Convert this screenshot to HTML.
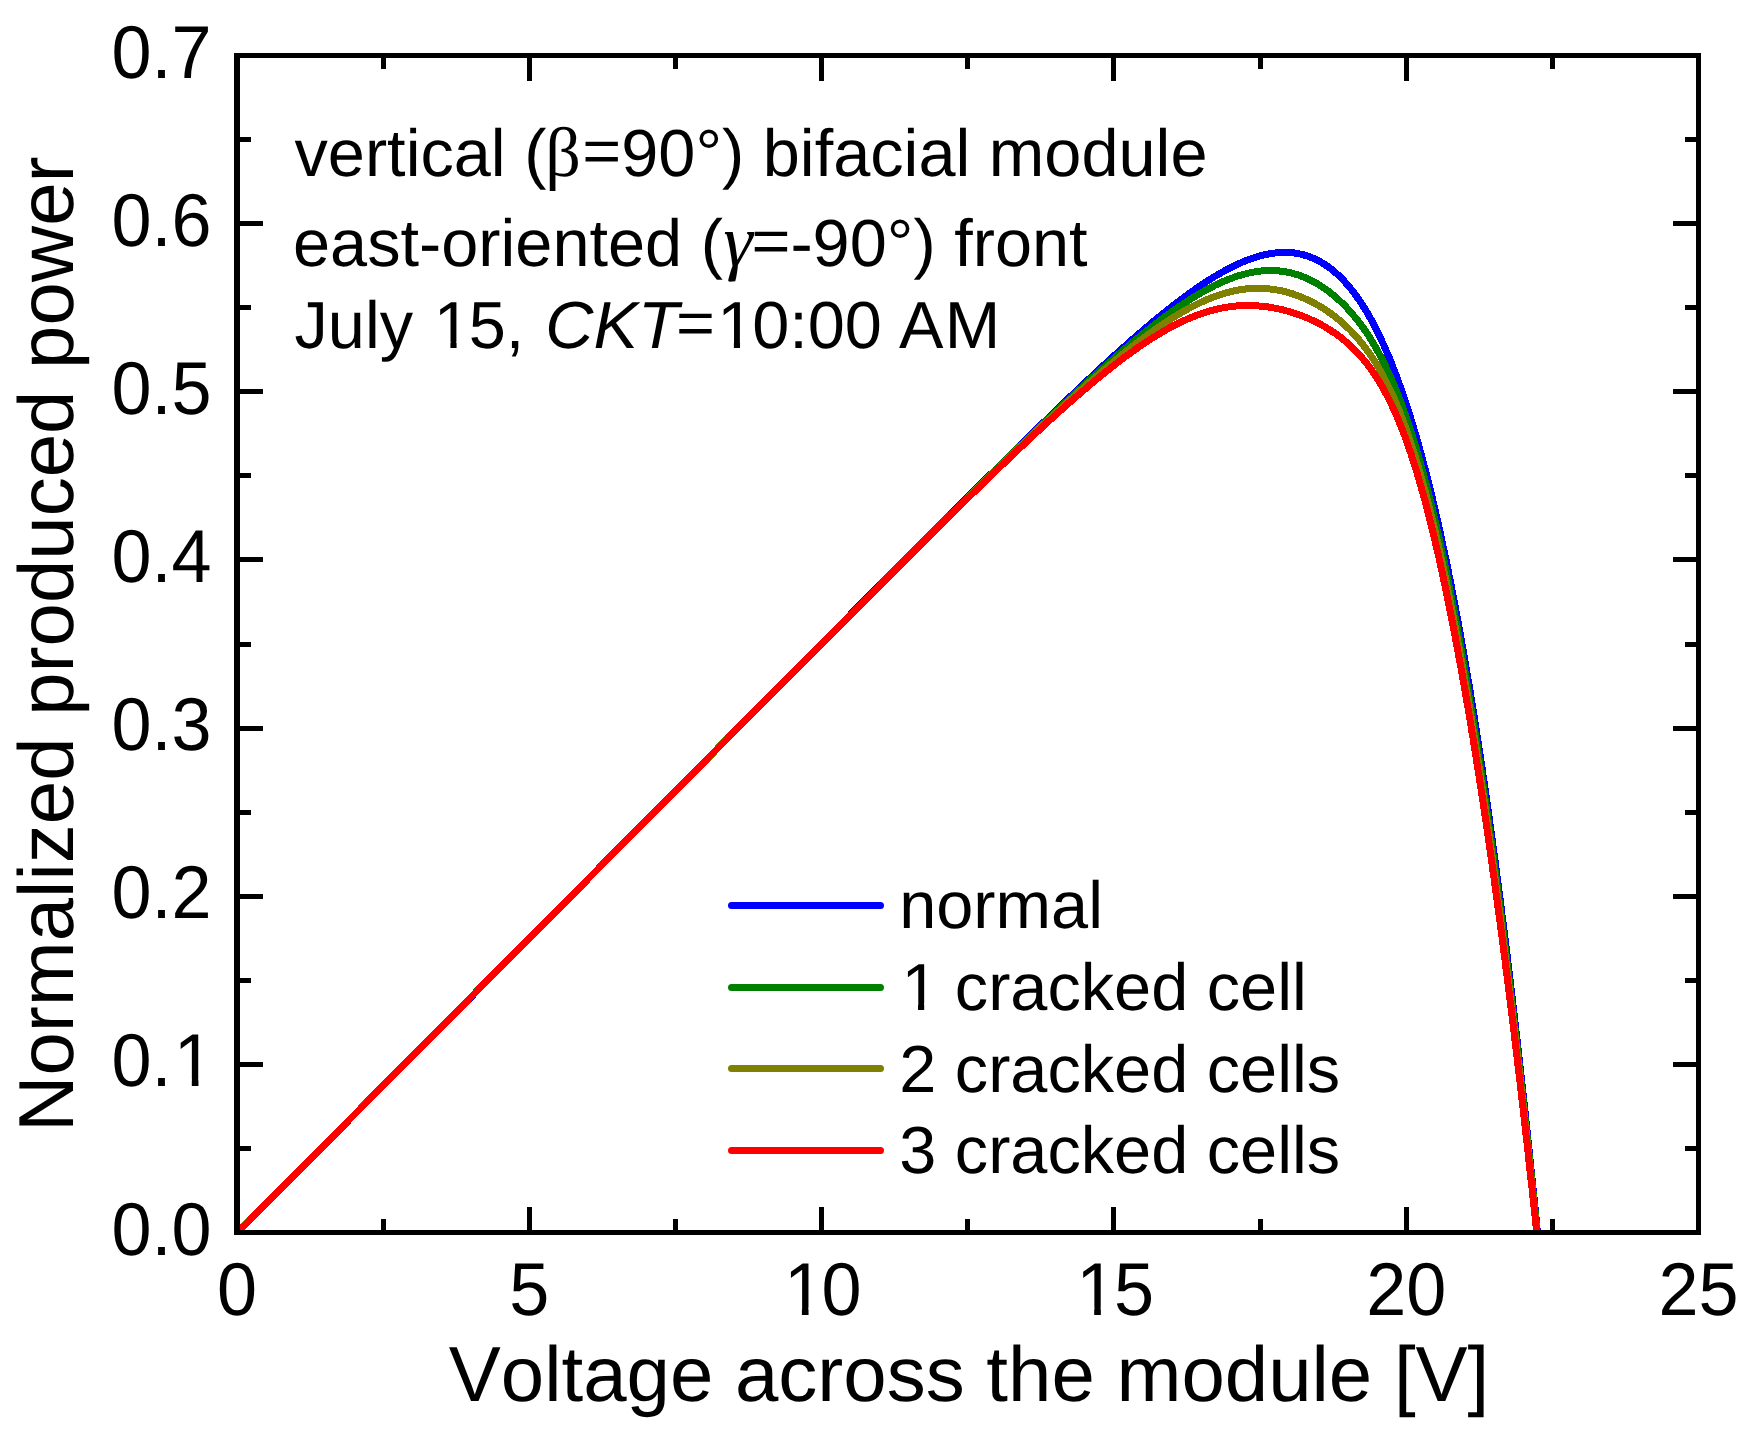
<!DOCTYPE html>
<html lang="en"><head><meta charset="utf-8"><title>Normalized produced power vs voltage</title>
<style>html,body{margin:0;padding:0;background:#fff}body{width:1753px;height:1444px;overflow:hidden}svg{display:block}</style>
</head><body>
<svg width="1753" height="1444" viewBox="0 0 1753 1444">
<rect width="1753" height="1444" fill="#fff"/>
<defs><clipPath id="c"><rect x="237" y="56" width="1461" height="1176"/></clipPath></defs>
<g clip-path="url(#c)" fill="none" stroke-width="7" stroke-linejoin="round" shape-rendering="crispEdges">
<path d="M237.0 1233.0 L239.7 1230.3 L242.2 1227.8 L244.8 1225.2 L247.4 1222.5 L250.2 1219.7 L253.0 1216.9 L255.8 1214.0 L258.8 1211.0 L261.8 1208.0 L264.9 1204.9 L268.1 1201.7 L271.3 1198.4 L274.6 1195.1 L277.9 1191.7 L281.3 1188.3 L284.8 1184.8 L288.3 1181.2 L291.9 1177.6 L295.6 1173.9 L299.3 1170.2 L303.0 1166.4 L306.8 1162.6 L310.6 1158.7 L314.5 1154.8 L318.5 1150.9 L322.4 1146.8 L326.4 1142.8 L330.5 1138.7 L334.6 1134.6 L338.7 1130.4 L342.9 1126.2 L347.1 1122.0 L351.3 1117.7 L355.6 1113.4 L359.9 1109.1 L364.2 1104.8 L368.5 1100.4 L372.9 1096.0 L377.3 1091.6 L381.7 1087.1 L386.1 1082.7 L390.5 1078.2 L395.0 1073.7 L399.5 1069.1 L404.0 1064.6 L408.5 1060.0 L413.1 1055.5 L417.6 1050.9 L422.2 1046.3 L426.7 1041.7 L431.3 1037.0 L435.9 1032.4 L440.5 1027.8 L445.2 1023.1 L449.8 1018.4 L454.4 1013.8 L459.1 1009.1 L463.7 1004.4 L468.4 999.7 L473.1 995.0 L477.7 990.2 L482.4 985.5 L487.1 980.8 L491.8 976.1 L496.5 971.3 L501.2 966.6 L505.9 961.8 L510.6 957.1 L515.3 952.3 L520.1 947.6 L524.8 942.8 L529.5 938.0 L534.2 933.2 L539.0 928.5 L543.7 923.7 L548.5 918.9 L553.2 914.1 L558.0 909.3 L562.7 904.6 L567.5 899.8 L572.2 895.0 L577.0 890.2 L581.7 885.4 L586.5 880.6 L591.2 875.8 L596.0 871.0 L600.8 866.2 L605.5 861.4 L610.3 856.6 L615.1 851.8 L619.8 847.0 L624.6 842.1 L629.4 837.3 L634.1 832.5 L638.9 827.7 L643.7 822.9 L648.5 818.1 L653.2 813.3 L658.0 808.5 L662.8 803.6 L667.6 798.8 L672.3 794.0 L677.1 789.2 L681.9 784.4 L686.7 779.6 L691.4 774.8 L696.2 769.9 L701.0 765.1 L705.8 760.3 L710.6 755.5 L715.3 750.7 L720.1 745.8 L724.9 741.0 L729.7 736.2 L734.5 731.4 L739.2 726.6 L744.0 721.7 L748.8 716.9 L753.6 712.1 L758.4 707.3 L763.1 702.5 L767.9 697.6 L772.7 692.8 L777.5 688.0 L782.3 683.2 L787.1 678.4 L791.8 673.5 L796.6 668.7 L801.4 663.9 L806.2 659.1 L811.0 654.3 L815.8 649.5 L820.6 644.6 L825.3 639.8 L830.1 635.0 L834.9 630.2 L839.7 625.4 L844.5 620.6 L849.3 615.7 L854.0 610.9 L858.8 606.1 L863.6 601.3 L868.4 596.5 L873.2 591.7 L878.0 586.9 L882.8 582.1 L887.5 577.3 L892.3 572.5 L897.1 567.7 L901.9 562.9 L906.7 558.1 L911.5 553.3 L916.3 548.5 L921.0 543.7 L925.8 538.9 L930.6 534.1 L935.4 529.3 L940.2 524.5 L945.0 519.7 L949.8 514.9 L954.6 510.2 L959.3 505.4 L964.1 500.6 L968.9 495.8 L973.7 491.1 L978.5 486.3 L983.3 481.6 L988.1 476.8 L992.9 472.1 L997.7 467.3 L1002.5 462.6 L1007.2 457.9 L1012.0 453.2 L1016.8 448.4 L1021.6 443.7 L1026.4 439.0 L1031.2 434.4 L1036.0 429.7 L1040.8 425.0 L1045.6 420.4 L1050.4 415.7 L1055.2 411.1 L1060.0 406.5 L1064.8 401.9 L1069.6 397.3 L1074.4 392.7 L1079.2 388.2 L1084.0 383.6 L1088.8 379.1 L1093.6 374.6 L1098.4 370.2 L1103.2 365.7 L1108.0 361.3 L1112.8 356.9 L1117.6 352.6 L1122.5 348.3 L1127.3 344.0 L1132.1 339.7 L1136.9 335.5 L1141.7 331.4 L1146.6 327.2 L1151.4 323.2 L1156.2 319.1 L1161.1 315.2 L1165.9 311.3 L1169.8 308.2 L1173.5 305.3 L1177.1 302.5 L1180.5 300.0 L1183.7 297.5 L1186.8 295.2 L1189.8 293.0 L1192.7 291.0 L1195.5 289.0 L1198.2 287.1 L1200.9 285.4 L1203.4 283.7 L1205.8 282.1 L1208.2 280.5 L1210.5 279.1 L1212.8 277.7 L1215.0 276.3 L1217.1 275.1 L1219.2 273.9 L1221.2 272.7 L1223.2 271.6 L1225.1 270.5 L1227.0 269.5 L1228.8 268.6 L1230.6 267.6 L1234.1 265.9 L1237.4 264.3 L1240.6 262.9 L1243.7 261.6 L1246.7 260.4 L1249.5 259.3 L1252.3 258.3 L1255.0 257.4 L1257.6 256.6 L1260.1 255.9 L1262.6 255.3 L1264.9 254.7 L1267.2 254.2 L1269.5 253.8 L1271.7 253.4 L1273.8 253.1 L1275.9 252.9 L1277.9 252.7 L1280.9 252.5 L1283.7 252.4 L1286.5 252.4 L1289.1 252.5 L1291.7 252.7 L1294.3 253.0 L1296.7 253.4 L1299.1 253.8 L1301.4 254.3 L1303.7 254.9 L1305.8 255.6 L1308.0 256.3 L1310.1 257.0 L1312.1 257.8 L1314.1 258.7 L1316.1 259.6 L1318.0 260.6 L1319.9 261.6 L1321.7 262.6 L1323.5 263.7 L1325.3 264.8 L1327.0 266.0 L1328.7 267.2 L1330.3 268.4 L1332.0 269.7 L1333.6 271.0 L1335.2 272.4 L1336.7 273.7 L1338.2 275.1 L1339.7 276.6 L1341.2 278.0 L1342.7 279.5 L1344.1 281.0 L1345.5 282.6 L1346.9 284.1 L1348.3 285.7 L1349.6 287.3 L1351.0 289.0 L1352.3 290.6 L1353.6 292.3 L1354.8 294.0 L1356.1 295.7 L1357.3 297.5 L1358.6 299.2 L1359.8 301.0 L1361.0 302.8 L1362.2 304.6 L1363.3 306.4 L1364.5 308.3 L1365.6 310.2 L1366.8 312.0 L1367.9 313.9 L1369.0 315.9 L1370.1 317.8 L1371.2 319.7 L1372.2 321.7 L1373.3 323.7 L1374.3 325.6 L1375.4 327.6 L1376.4 329.7 L1377.4 331.7 L1378.4 333.7 L1379.4 335.8 L1380.4 337.8 L1381.4 339.9 L1382.3 342.0 L1383.3 344.1 L1384.3 346.2 L1385.2 348.3 L1386.1 350.5 L1387.1 352.6 L1388.0 354.8 L1388.9 356.9 L1389.8 359.1 L1390.7 361.3 L1391.6 363.5 L1392.4 365.7 L1393.3 367.9 L1394.2 370.2 L1395.0 372.4 L1395.9 374.6 L1396.7 376.9 L1397.6 379.2 L1398.4 381.4 L1399.2 383.7 L1400.0 386.0 L1400.8 388.3 L1401.7 390.6 L1402.5 392.9 L1403.2 395.2 L1404.0 397.6 L1404.8 399.9 L1405.6 402.2 L1406.4 404.6 L1407.1 407.0 L1407.9 409.3 L1408.7 411.7 L1409.4 414.1 L1410.2 416.5 L1410.9 418.9 L1411.6 421.3 L1412.4 423.7 L1413.1 426.1 L1413.8 428.5 L1414.5 431.0 L1415.3 433.4 L1416.0 435.9 L1416.7 438.3 L1417.4 440.8 L1418.1 443.2 L1418.8 445.7 L1419.5 448.2 L1420.1 450.7 L1420.8 453.1 L1421.5 455.6 L1422.2 458.1 L1422.9 460.6 L1423.5 463.2 L1424.2 465.7 L1424.8 468.2 L1425.5 470.7 L1426.1 473.3 L1426.8 475.8 L1427.4 478.3 L1428.1 480.9 L1428.7 483.5 L1429.4 486.0 L1430.0 488.6 L1430.6 491.1 L1431.2 493.7 L1431.9 496.3 L1432.5 498.9 L1433.1 501.5 L1433.7 504.1 L1434.3 506.7 L1434.9 509.3 L1435.5 511.9 L1436.1 514.5 L1436.7 517.1 L1437.3 519.8 L1437.9 522.4 L1438.5 525.0 L1439.1 527.7 L1439.7 530.3 L1440.3 532.9 L1440.8 535.6 L1441.4 538.3 L1442.0 540.9 L1442.6 543.6 L1443.1 546.3 L1443.7 548.9 L1444.3 551.6 L1444.8 554.3 L1445.4 557.0 L1446.0 559.7 L1446.5 562.4 L1447.1 565.0 L1447.6 567.8 L1448.2 570.5 L1448.7 573.2 L1449.2 575.9 L1449.8 578.6 L1450.3 581.3 L1450.9 584.0 L1451.4 586.8 L1451.9 589.5 L1452.5 592.2 L1453.0 595.0 L1453.5 597.7 L1454.0 600.5 L1454.6 603.2 L1455.1 606.0 L1455.6 608.7 L1456.1 611.5 L1456.6 614.3 L1457.2 617.0 L1457.7 619.8 L1458.2 622.6 L1458.7 625.4 L1459.2 628.1 L1459.7 630.9 L1460.2 633.7 L1460.7 636.5 L1461.2 639.3 L1461.7 642.1 L1462.2 644.9 L1462.7 647.7 L1463.2 650.5 L1463.7 653.3 L1464.2 656.2 L1464.6 659.0 L1465.1 661.8 L1465.6 664.6 L1466.1 667.5 L1466.6 670.3 L1467.0 673.1 L1467.5 676.0 L1468.0 678.8 L1468.5 681.6 L1469.0 684.5 L1469.4 687.3 L1469.9 690.2 L1470.4 693.0 L1470.8 695.9 L1471.3 698.8 L1471.8 701.6 L1472.2 704.5 L1472.7 707.4 L1473.1 710.2 L1473.6 713.1 L1474.1 716.0 L1474.5 718.9 L1475.0 721.8 L1475.4 724.7 L1475.9 727.5 L1476.3 730.4 L1476.8 733.3 L1477.2 736.2 L1477.7 739.1 L1478.1 742.0 L1478.6 744.9 L1479.0 747.9 L1479.4 750.8 L1479.9 753.7 L1480.3 756.6 L1480.8 759.5 L1481.2 762.4 L1481.6 765.4 L1482.1 768.3 L1482.5 771.2 L1482.9 774.2 L1483.4 777.1 L1483.8 780.0 L1484.2 783.0 L1484.6 785.9 L1485.1 788.9 L1485.5 791.8 L1485.9 794.8 L1486.3 797.7 L1486.8 800.7 L1487.2 803.6 L1487.6 806.6 L1488.0 809.6 L1488.4 812.5 L1488.9 815.5 L1489.3 818.5 L1489.5 820.4 L1489.8 822.4 L1490.1 824.4 L1490.4 826.4 L1490.6 828.4 L1490.9 830.4 L1491.2 832.4 L1491.5 834.3 L1491.7 836.3 L1492.0 838.3 L1492.3 840.3 L1492.6 842.3 L1492.8 844.3 L1493.1 846.3 L1493.4 848.3 L1493.6 850.3 L1493.9 852.3 L1494.2 854.3 L1494.4 856.3 L1494.7 858.3 L1495.0 860.3 L1495.2 862.3 L1495.5 864.3 L1495.8 866.3 L1496.0 868.3 L1496.3 870.3 L1496.6 872.3 L1496.8 874.3 L1497.1 876.3 L1497.4 878.4 L1497.6 880.4 L1497.9 882.4 L1498.2 884.4 L1498.4 886.4 L1498.7 888.4 L1498.9 890.4 L1499.2 892.5 L1499.5 894.5 L1499.7 896.5 L1500.0 898.5 L1500.2 900.6 L1500.5 902.6 L1500.8 904.6 L1501.0 906.6 L1501.3 908.6 L1501.5 910.7 L1501.8 912.7 L1502.0 914.7 L1502.3 916.8 L1502.6 918.8 L1502.8 920.8 L1503.1 922.9 L1503.3 924.9 L1503.6 926.9 L1503.8 929.0 L1504.1 931.0 L1504.3 933.0 L1504.6 935.1 L1504.8 937.1 L1505.1 939.2 L1505.4 941.2 L1505.6 943.2 L1505.9 945.3 L1506.1 947.3 L1506.4 949.4 L1506.6 951.4 L1506.9 953.5 L1507.1 955.5 L1507.4 957.6 L1507.6 959.6 L1507.9 961.7 L1508.1 963.7 L1508.4 965.8 L1508.6 967.8 L1508.8 969.9 L1509.1 971.9 L1509.3 974.0 L1509.6 976.0 L1509.8 978.1 L1510.1 980.1 L1510.3 982.2 L1510.6 984.3 L1510.8 986.3 L1511.1 988.4 L1511.3 990.4 L1511.6 992.5 L1511.8 994.6 L1512.0 996.6 L1512.3 998.7 L1512.5 1000.8 L1512.8 1002.8 L1513.0 1004.9 L1513.2 1007.0 L1513.5 1009.0 L1513.7 1011.1 L1514.0 1013.2 L1514.2 1015.3 L1514.5 1017.3 L1514.7 1019.4 L1514.9 1021.5 L1515.2 1023.6 L1515.4 1025.6 L1515.7 1027.7 L1515.9 1029.8 L1516.1 1031.9 L1516.4 1033.9 L1516.6 1036.0 L1516.8 1038.1 L1517.1 1040.2 L1517.3 1042.3 L1517.5 1044.4 L1517.8 1046.4 L1518.0 1048.5 L1518.3 1050.6 L1518.5 1052.7 L1518.7 1054.8 L1519.0 1056.9 L1519.2 1059.0 L1519.4 1061.1 L1519.7 1063.2 L1519.9 1065.3 L1520.1 1067.3 L1520.4 1069.4 L1520.6 1071.5 L1520.8 1073.6 L1521.1 1075.7 L1521.3 1077.8 L1521.5 1079.9 L1521.8 1082.0 L1522.0 1084.1 L1522.2 1086.2 L1522.5 1088.3 L1522.7 1090.4 L1522.9 1092.5 L1523.1 1094.6 L1523.4 1096.7 L1523.6 1098.8 L1523.8 1100.9 L1524.1 1103.1 L1524.3 1105.2 L1524.5 1107.3 L1524.7 1109.4 L1525.0 1111.5 L1525.2 1113.6 L1525.4 1115.7 L1525.7 1117.8 L1525.9 1119.9 L1526.1 1122.0 L1526.3 1124.2 L1526.6 1126.3 L1526.8 1128.4 L1527.0 1130.5 L1527.2 1132.6 L1527.5 1134.7 L1527.7 1136.9 L1527.9 1139.0 L1528.1 1141.1 L1528.4 1143.2 L1528.6 1145.4 L1528.8 1147.5 L1529.0 1149.6 L1529.3 1151.7 L1529.5 1153.8 L1529.7 1156.0 L1529.9 1158.1 L1530.1 1160.2 L1530.4 1162.4 L1530.6 1164.5 L1530.8 1166.6 L1531.0 1168.7 L1531.3 1170.9 L1531.5 1173.0 L1531.7 1175.1 L1531.9 1177.3 L1532.1 1179.4 L1532.4 1181.5 L1532.6 1183.7 L1532.8 1185.8 L1533.0 1188.0 L1533.2 1190.1 L1533.4 1192.2 L1533.7 1194.4 L1533.9 1196.5 L1534.1 1198.6 L1534.3 1200.8 L1534.5 1202.9 L1534.8 1205.1 L1535.0 1207.2 L1535.2 1209.4 L1535.4 1211.5 L1535.6 1213.7 L1535.8 1215.8 L1536.1 1217.9 L1536.3 1220.1 L1536.5 1222.2 L1536.7 1224.4 L1536.9 1226.5 L1537.1 1228.7 L1537.4 1230.8 L1537.6 1233.0 L1537.6 1233.0" stroke="#0000ff"/>
<path d="M237.0 1233.0 L239.7 1230.3 L242.8 1227.2 L245.9 1224.0 L249.1 1220.8 L252.4 1217.5 L255.8 1214.1 L259.2 1210.6 L262.6 1207.1 L266.2 1203.6 L269.8 1200.0 L273.4 1196.3 L277.1 1192.6 L280.8 1188.8 L284.6 1185.0 L288.5 1181.1 L292.4 1177.2 L296.3 1173.2 L300.3 1169.2 L304.3 1165.1 L308.3 1161.1 L312.4 1156.9 L316.6 1152.8 L320.7 1148.6 L324.9 1144.3 L329.2 1140.1 L333.4 1135.8 L337.7 1131.5 L342.0 1127.1 L346.4 1122.7 L350.7 1118.3 L355.1 1113.9 L359.5 1109.5 L363.9 1105.0 L368.4 1100.5 L372.9 1096.0 L377.3 1091.5 L381.8 1086.9 L386.4 1082.4 L390.9 1077.8 L395.4 1073.2 L400.0 1068.6 L404.6 1064.0 L409.2 1059.4 L413.8 1054.7 L418.4 1050.1 L423.0 1045.4 L427.6 1040.8 L432.3 1036.1 L436.9 1031.4 L441.6 1026.7 L446.2 1022.0 L450.9 1017.3 L455.6 1012.6 L460.3 1007.9 L464.9 1003.1 L469.6 998.4 L474.3 993.7 L479.0 988.9 L483.8 984.2 L488.5 979.4 L493.2 974.7 L497.9 969.9 L502.6 965.1 L507.4 960.4 L512.1 955.6 L516.8 950.8 L521.6 946.0 L526.3 941.3 L531.1 936.5 L535.8 931.7 L540.5 926.9 L545.3 922.1 L550.1 917.3 L554.8 912.5 L559.6 907.7 L564.3 902.9 L569.1 898.1 L573.8 893.3 L578.6 888.5 L583.4 883.7 L588.1 878.9 L592.9 874.1 L597.7 869.3 L602.4 864.5 L607.2 859.7 L612.0 854.9 L616.8 850.1 L621.5 845.2 L626.3 840.4 L631.1 835.6 L635.8 830.8 L640.6 826.0 L645.4 821.2 L650.2 816.4 L655.0 811.5 L659.7 806.7 L664.5 801.9 L669.3 797.1 L674.1 792.3 L678.8 787.5 L683.6 782.6 L688.4 777.8 L693.2 773.0 L698.0 768.2 L702.7 763.4 L707.5 758.5 L712.3 753.7 L717.1 748.9 L721.9 744.1 L726.6 739.3 L731.4 734.4 L736.2 729.6 L741.0 724.8 L745.8 720.0 L750.6 715.2 L755.3 710.3 L760.1 705.5 L764.9 700.7 L769.7 695.9 L774.5 691.1 L779.3 686.2 L784.0 681.4 L788.8 676.6 L793.6 671.8 L798.4 667.0 L803.2 662.2 L808.0 657.3 L812.8 652.5 L817.5 647.7 L822.3 642.9 L827.1 638.1 L831.9 633.3 L836.7 628.5 L841.5 623.6 L846.3 618.8 L851.0 614.0 L855.8 609.2 L860.6 604.4 L865.4 599.6 L870.2 594.8 L875.0 590.0 L879.8 585.2 L884.5 580.4 L889.3 575.6 L894.1 570.8 L898.9 566.0 L903.7 561.2 L908.5 556.4 L913.3 551.6 L918.1 546.8 L922.8 542.0 L927.6 537.2 L932.4 532.5 L937.2 527.7 L942.0 522.9 L946.8 518.1 L951.6 513.4 L956.4 508.6 L961.2 503.8 L966.0 499.1 L970.8 494.3 L975.5 489.6 L980.3 484.9 L985.1 480.1 L989.9 475.4 L994.7 470.7 L999.5 466.0 L1004.3 461.3 L1009.1 456.6 L1013.9 451.9 L1018.7 447.2 L1023.5 442.6 L1028.3 437.9 L1033.1 433.3 L1037.9 428.6 L1042.7 424.0 L1047.5 419.4 L1052.3 414.8 L1057.1 410.3 L1062.0 405.7 L1066.8 401.2 L1071.6 396.7 L1076.4 392.2 L1081.2 387.8 L1086.0 383.3 L1090.9 378.9 L1095.7 374.5 L1100.5 370.2 L1105.3 365.9 L1110.2 361.6 L1115.0 357.4 L1119.9 353.2 L1124.7 349.0 L1129.5 344.9 L1134.4 340.8 L1139.3 336.8 L1144.1 332.9 L1148.0 329.8 L1151.8 326.8 L1155.4 324.0 L1158.8 321.4 L1162.0 318.9 L1165.2 316.6 L1168.2 314.4 L1171.2 312.2 L1174.0 310.2 L1176.7 308.3 L1179.3 306.5 L1181.9 304.8 L1184.4 303.1 L1186.8 301.6 L1189.1 300.1 L1191.4 298.6 L1193.6 297.2 L1195.8 295.9 L1197.9 294.7 L1199.9 293.5 L1201.9 292.3 L1203.9 291.2 L1205.8 290.1 L1207.6 289.1 L1209.5 288.2 L1211.3 287.2 L1214.7 285.5 L1218.0 283.9 L1221.3 282.4 L1224.3 281.1 L1227.3 279.8 L1230.2 278.7 L1233.0 277.7 L1235.7 276.7 L1238.3 275.9 L1240.9 275.1 L1243.4 274.4 L1245.8 273.8 L1248.1 273.2 L1250.4 272.7 L1252.7 272.2 L1254.9 271.9 L1257.0 271.5 L1259.1 271.3 L1261.1 271.0 L1263.1 270.8 L1266.1 270.7 L1268.9 270.6 L1271.7 270.6 L1274.4 270.6 L1277.0 270.8 L1279.5 271.0 L1282.0 271.3 L1284.5 271.6 L1286.8 272.1 L1289.2 272.5 L1291.5 273.1 L1293.7 273.7 L1295.9 274.3 L1298.1 275.0 L1300.2 275.7 L1302.2 276.5 L1304.3 277.3 L1306.3 278.2 L1308.3 279.1 L1310.2 280.0 L1312.1 281.0 L1314.0 282.0 L1315.9 283.0 L1317.7 284.1 L1319.5 285.2 L1321.3 286.3 L1323.1 287.5 L1324.8 288.6 L1326.5 289.9 L1328.2 291.1 L1329.9 292.4 L1331.5 293.7 L1333.2 295.0 L1334.8 296.3 L1336.4 297.7 L1337.9 299.1 L1339.5 300.5 L1341.0 302.0 L1342.5 303.4 L1344.0 304.9 L1345.5 306.4 L1347.0 308.0 L1348.4 309.5 L1349.8 311.1 L1351.3 312.7 L1352.6 314.3 L1354.0 316.0 L1355.4 317.6 L1356.7 319.3 L1358.1 321.0 L1359.4 322.7 L1360.7 324.4 L1362.0 326.2 L1363.3 328.0 L1364.5 329.7 L1365.8 331.6 L1367.0 333.4 L1368.2 335.2 L1369.4 337.1 L1370.6 339.0 L1371.8 340.8 L1372.9 342.8 L1374.1 344.7 L1375.2 346.6 L1376.3 348.6 L1377.4 350.6 L1378.5 352.5 L1379.6 354.5 L1380.7 356.6 L1381.7 358.6 L1382.8 360.6 L1383.8 362.7 L1384.8 364.8 L1385.8 366.9 L1386.8 369.0 L1387.8 371.1 L1388.8 373.2 L1389.8 375.3 L1390.7 377.5 L1391.7 379.6 L1392.6 381.8 L1393.6 384.0 L1394.5 386.2 L1395.4 388.4 L1396.3 390.6 L1397.2 392.9 L1398.1 395.1 L1398.9 397.4 L1399.8 399.6 L1400.7 401.9 L1401.5 404.2 L1402.4 406.5 L1403.2 408.8 L1404.0 411.1 L1404.8 413.4 L1405.7 415.7 L1406.5 418.1 L1407.3 420.4 L1408.1 422.8 L1408.9 425.2 L1409.6 427.5 L1410.4 429.9 L1411.2 432.3 L1411.9 434.7 L1412.7 437.1 L1413.4 439.5 L1414.2 441.9 L1414.9 444.4 L1415.7 446.8 L1416.4 449.2 L1417.1 451.7 L1417.8 454.1 L1418.5 456.6 L1419.2 459.1 L1419.9 461.6 L1420.6 464.0 L1421.3 466.5 L1422.0 469.0 L1422.7 471.5 L1423.4 474.0 L1424.1 476.6 L1424.7 479.1 L1425.4 481.6 L1426.1 484.1 L1426.7 486.7 L1427.4 489.2 L1428.0 491.8 L1428.7 494.3 L1429.3 496.9 L1430.0 499.5 L1430.6 502.0 L1431.2 504.6 L1431.9 507.2 L1432.5 509.8 L1433.1 512.4 L1433.7 515.0 L1434.3 517.6 L1435.0 520.2 L1435.6 522.8 L1436.2 525.4 L1436.8 528.0 L1437.4 530.7 L1438.0 533.3 L1438.6 535.9 L1439.2 538.6 L1439.8 541.2 L1440.3 543.9 L1440.9 546.5 L1441.5 549.2 L1442.1 551.8 L1442.7 554.5 L1443.2 557.2 L1443.8 559.9 L1444.4 562.5 L1444.9 565.2 L1445.5 567.9 L1446.1 570.6 L1446.6 573.3 L1447.2 576.0 L1447.7 578.7 L1448.3 581.4 L1448.8 584.1 L1449.4 586.9 L1449.9 589.6 L1450.4 592.3 L1451.0 595.0 L1451.5 597.8 L1452.1 600.5 L1452.6 603.2 L1453.1 606.0 L1453.7 608.7 L1454.2 611.5 L1454.7 614.2 L1455.2 617.0 L1455.7 619.8 L1456.3 622.5 L1456.8 625.3 L1457.3 628.1 L1457.8 630.8 L1458.3 633.6 L1458.8 636.4 L1459.3 639.2 L1459.8 642.0 L1460.3 644.8 L1460.9 647.6 L1461.4 650.4 L1461.9 653.2 L1462.3 656.0 L1462.8 658.8 L1463.3 661.6 L1463.8 664.4 L1464.3 667.2 L1464.8 670.1 L1465.3 672.9 L1465.8 675.7 L1466.3 678.6 L1466.8 681.4 L1467.2 684.2 L1467.7 687.1 L1468.2 689.9 L1468.7 692.8 L1469.1 695.6 L1469.6 698.5 L1470.1 701.3 L1470.6 704.2 L1471.0 707.1 L1471.5 709.9 L1472.0 712.8 L1472.4 715.7 L1472.9 718.5 L1473.4 721.4 L1473.8 724.3 L1474.3 727.2 L1474.7 730.1 L1475.2 732.9 L1475.6 735.8 L1476.1 738.7 L1476.6 741.6 L1477.0 744.5 L1477.5 747.4 L1477.9 750.3 L1478.4 753.2 L1478.8 756.2 L1479.2 759.1 L1479.7 762.0 L1480.1 764.9 L1480.6 767.8 L1481.0 770.7 L1481.5 773.7 L1481.9 776.6 L1482.3 779.5 L1482.8 782.5 L1483.2 785.4 L1483.6 788.3 L1484.1 791.3 L1484.5 794.2 L1484.9 797.2 L1485.4 800.1 L1485.8 803.1 L1486.2 806.0 L1486.6 809.0 L1487.1 811.9 L1487.5 814.9 L1487.9 817.9 L1488.3 820.8 L1488.8 823.8 L1489.0 825.8 L1489.3 827.8 L1489.6 829.8 L1489.9 831.7 L1490.1 833.7 L1490.4 835.7 L1490.7 837.7 L1491.0 839.7 L1491.3 841.7 L1491.5 843.7 L1491.8 845.7 L1492.1 847.6 L1492.4 849.6 L1492.6 851.6 L1492.9 853.6 L1493.2 855.6 L1493.5 857.6 L1493.7 859.6 L1494.0 861.6 L1494.3 863.6 L1494.5 865.6 L1494.8 867.6 L1495.1 869.6 L1495.4 871.6 L1495.6 873.6 L1495.9 875.6 L1496.2 877.7 L1496.4 879.7 L1496.7 881.7 L1497.0 883.7 L1497.2 885.7 L1497.5 887.7 L1497.8 889.7 L1498.0 891.7 L1498.3 893.8 L1498.6 895.8 L1498.8 897.8 L1499.1 899.8 L1499.4 901.8 L1499.6 903.8 L1499.9 905.9 L1500.1 907.9 L1500.4 909.9 L1500.7 911.9 L1500.9 914.0 L1501.2 916.0 L1501.5 918.0 L1501.7 920.0 L1502.0 922.1 L1502.2 924.1 L1502.5 926.1 L1502.8 928.2 L1503.0 930.2 L1503.3 932.2 L1503.5 934.3 L1503.8 936.3 L1504.0 938.3 L1504.3 940.4 L1504.6 942.4 L1504.8 944.5 L1505.1 946.5 L1505.3 948.5 L1505.6 950.6 L1505.8 952.6 L1506.1 954.7 L1506.4 956.7 L1506.6 958.8 L1506.9 960.8 L1507.1 962.9 L1507.4 964.9 L1507.6 967.0 L1507.9 969.0 L1508.1 971.1 L1508.4 973.1 L1508.6 975.2 L1508.9 977.2 L1509.1 979.3 L1509.4 981.3 L1509.6 983.4 L1509.9 985.4 L1510.1 987.5 L1510.4 989.6 L1510.6 991.6 L1510.9 993.7 L1511.1 995.8 L1511.4 997.8 L1511.6 999.9 L1511.9 1001.9 L1512.1 1004.0 L1512.4 1006.1 L1512.6 1008.1 L1512.9 1010.2 L1513.1 1012.3 L1513.3 1014.3 L1513.6 1016.4 L1513.8 1018.5 L1514.1 1020.6 L1514.3 1022.6 L1514.6 1024.7 L1514.8 1026.8 L1515.1 1028.9 L1515.3 1030.9 L1515.5 1033.0 L1515.8 1035.1 L1516.0 1037.2 L1516.3 1039.3 L1516.5 1041.3 L1516.7 1043.4 L1517.0 1045.5 L1517.2 1047.6 L1517.5 1049.7 L1517.7 1051.8 L1518.0 1053.8 L1518.2 1055.9 L1518.4 1058.0 L1518.7 1060.1 L1518.9 1062.2 L1519.1 1064.3 L1519.4 1066.4 L1519.6 1068.5 L1519.9 1070.6 L1520.1 1072.7 L1520.3 1074.8 L1520.6 1076.8 L1520.8 1078.9 L1521.0 1081.0 L1521.3 1083.1 L1521.5 1085.2 L1521.8 1087.3 L1522.0 1089.4 L1522.2 1091.5 L1522.5 1093.6 L1522.7 1095.7 L1522.9 1097.8 L1523.2 1099.9 L1523.4 1102.1 L1523.6 1104.2 L1523.9 1106.3 L1524.1 1108.4 L1524.3 1110.5 L1524.6 1112.6 L1524.8 1114.7 L1525.0 1116.8 L1525.3 1118.9 L1525.5 1121.0 L1525.7 1123.1 L1526.0 1125.3 L1526.2 1127.4 L1526.4 1129.5 L1526.6 1131.6 L1526.9 1133.7 L1527.1 1135.8 L1527.3 1138.0 L1527.6 1140.1 L1527.8 1142.2 L1528.0 1144.3 L1528.2 1146.4 L1528.5 1148.6 L1528.7 1150.7 L1528.9 1152.8 L1529.2 1154.9 L1529.4 1157.1 L1529.6 1159.2 L1529.8 1161.3 L1530.1 1163.4 L1530.3 1165.6 L1530.5 1167.7 L1530.7 1169.8 L1531.0 1172.0 L1531.2 1174.1 L1531.4 1176.2 L1531.6 1178.4 L1531.9 1180.5 L1532.1 1182.6 L1532.3 1184.8 L1532.5 1186.9 L1532.8 1189.0 L1533.0 1191.2 L1533.2 1193.3 L1533.4 1195.4 L1533.7 1197.6 L1533.9 1199.7 L1534.1 1201.9 L1534.3 1204.0 L1534.6 1206.2 L1534.8 1208.3 L1535.0 1210.4 L1535.2 1212.6 L1535.4 1214.7 L1535.7 1216.9 L1535.9 1219.0 L1536.1 1221.2 L1536.3 1223.3 L1536.5 1225.5 L1536.8 1227.6 L1537.0 1229.8 L1537.2 1231.9 L1537.3 1233.0" stroke="#008000"/>
<path d="M237.0 1233.0 L240.5 1229.5 L244.0 1225.9 L247.6 1222.3 L251.2 1218.6 L254.9 1214.9 L258.7 1211.1 L262.5 1207.3 L266.3 1203.4 L270.2 1199.5 L274.1 1195.5 L278.1 1191.5 L282.1 1187.5 L286.2 1183.4 L290.3 1179.3 L294.4 1175.1 L298.6 1170.9 L302.8 1166.7 L307.0 1162.4 L311.3 1158.1 L315.5 1153.8 L319.9 1149.4 L324.2 1145.1 L328.6 1140.7 L332.9 1136.2 L337.4 1131.8 L341.8 1127.3 L346.2 1122.8 L350.7 1118.3 L355.2 1113.8 L359.7 1109.3 L364.2 1104.7 L368.7 1100.1 L373.3 1095.6 L377.9 1091.0 L382.4 1086.3 L387.0 1081.7 L391.6 1077.1 L396.2 1072.4 L400.8 1067.8 L405.5 1063.1 L410.1 1058.4 L414.8 1053.8 L419.4 1049.1 L424.1 1044.4 L428.7 1039.6 L433.4 1034.9 L438.1 1030.2 L442.8 1025.5 L447.5 1020.7 L452.2 1016.0 L456.9 1011.3 L461.6 1006.5 L466.3 1001.8 L471.0 997.0 L475.8 992.2 L480.5 987.5 L485.2 982.7 L489.9 977.9 L494.7 973.2 L499.4 968.4 L504.2 963.6 L508.9 958.8 L513.6 954.0 L518.4 949.2 L523.1 944.4 L527.9 939.7 L532.7 934.9 L537.4 930.1 L542.2 925.3 L546.9 920.5 L551.7 915.7 L556.5 910.9 L561.2 906.1 L566.0 901.3 L570.7 896.4 L575.5 891.6 L580.3 886.8 L585.1 882.0 L589.8 877.2 L594.6 872.4 L599.4 867.6 L604.1 862.8 L608.9 858.0 L613.7 853.1 L618.5 848.3 L623.2 843.5 L628.0 838.7 L632.8 833.9 L637.6 829.1 L642.4 824.2 L647.1 819.4 L651.9 814.6 L656.7 809.8 L661.5 805.0 L666.2 800.2 L671.0 795.3 L675.8 790.5 L680.6 785.7 L685.4 780.9 L690.1 776.1 L694.9 771.2 L699.7 766.4 L704.5 761.6 L709.3 756.8 L714.1 752.0 L718.8 747.1 L723.6 742.3 L728.4 737.5 L733.2 732.7 L738.0 727.9 L742.8 723.0 L747.5 718.2 L752.3 713.4 L757.1 708.6 L761.9 703.8 L766.7 698.9 L771.5 694.1 L776.2 689.3 L781.0 684.5 L785.8 679.7 L790.6 674.9 L795.4 670.0 L800.2 665.2 L805.0 660.4 L809.7 655.6 L814.5 650.8 L819.3 646.0 L824.1 641.2 L828.9 636.3 L833.7 631.5 L838.5 626.7 L843.2 621.9 L848.0 617.1 L852.8 612.3 L857.6 607.5 L862.4 602.7 L867.2 597.9 L872.0 593.1 L876.8 588.3 L881.6 583.5 L886.3 578.7 L891.1 573.9 L895.9 569.1 L900.7 564.3 L905.5 559.5 L910.3 554.7 L915.1 550.0 L919.9 545.2 L924.7 540.4 L929.5 535.6 L934.3 530.9 L939.0 526.1 L943.8 521.4 L948.6 516.6 L953.4 511.9 L958.2 507.1 L963.0 502.4 L967.8 497.6 L972.6 492.9 L977.4 488.2 L982.2 483.5 L987.0 478.8 L991.8 474.1 L996.6 469.4 L1001.4 464.7 L1006.2 460.1 L1011.0 455.4 L1015.9 450.8 L1020.7 446.2 L1025.5 441.6 L1030.3 437.0 L1035.1 432.4 L1039.9 427.8 L1044.7 423.3 L1049.6 418.8 L1054.4 414.3 L1059.2 409.8 L1064.1 405.3 L1068.9 400.9 L1073.7 396.5 L1078.6 392.1 L1083.4 387.8 L1088.3 383.5 L1093.1 379.2 L1098.0 375.0 L1102.8 370.8 L1107.7 366.6 L1112.6 362.5 L1117.5 358.5 L1122.3 354.5 L1126.3 351.3 L1130.1 348.3 L1133.6 345.5 L1137.1 342.8 L1140.4 340.3 L1143.6 337.9 L1146.6 335.7 L1149.6 333.5 L1152.4 331.5 L1155.2 329.5 L1157.8 327.7 L1160.4 325.9 L1162.9 324.2 L1165.3 322.6 L1167.7 321.0 L1170.0 319.6 L1172.3 318.1 L1174.4 316.8 L1176.6 315.5 L1178.6 314.2 L1180.7 313.0 L1182.6 311.9 L1184.6 310.8 L1186.5 309.7 L1188.3 308.7 L1190.1 307.7 L1191.9 306.8 L1195.4 305.0 L1198.7 303.4 L1201.9 301.9 L1205.0 300.5 L1208.0 299.2 L1210.9 298.0 L1213.7 296.9 L1216.5 295.9 L1219.1 295.0 L1221.7 294.2 L1224.2 293.4 L1226.7 292.7 L1229.1 292.1 L1231.5 291.5 L1233.7 291.0 L1236.0 290.5 L1238.2 290.1 L1240.3 289.7 L1242.5 289.4 L1244.5 289.1 L1246.6 288.9 L1248.6 288.7 L1251.5 288.5 L1254.3 288.3 L1257.1 288.3 L1259.9 288.3 L1262.5 288.4 L1265.2 288.5 L1267.7 288.7 L1270.2 289.0 L1272.7 289.3 L1275.1 289.7 L1277.5 290.1 L1279.9 290.5 L1282.2 291.0 L1284.5 291.6 L1286.7 292.1 L1289.0 292.8 L1291.1 293.4 L1293.3 294.1 L1295.4 294.9 L1297.6 295.6 L1299.6 296.4 L1301.7 297.2 L1303.7 298.1 L1305.7 299.0 L1307.7 299.9 L1309.7 300.9 L1311.7 301.8 L1313.6 302.8 L1315.5 303.9 L1317.4 304.9 L1319.2 306.0 L1321.1 307.1 L1322.9 308.2 L1324.7 309.4 L1326.5 310.6 L1328.3 311.8 L1330.0 313.0 L1331.8 314.3 L1333.5 315.6 L1335.2 316.9 L1336.9 318.2 L1338.5 319.6 L1340.2 320.9 L1341.8 322.3 L1343.4 323.8 L1345.0 325.2 L1346.6 326.7 L1348.1 328.2 L1349.7 329.7 L1351.2 331.2 L1352.7 332.8 L1354.1 334.4 L1355.6 336.0 L1357.0 337.6 L1358.5 339.2 L1359.9 340.9 L1361.3 342.6 L1362.6 344.3 L1364.0 346.0 L1365.3 347.8 L1366.6 349.6 L1367.9 351.3 L1369.2 353.2 L1370.5 355.0 L1371.7 356.8 L1373.0 358.7 L1374.2 360.6 L1375.4 362.5 L1376.6 364.4 L1377.7 366.4 L1378.9 368.3 L1380.0 370.3 L1381.2 372.3 L1382.3 374.3 L1383.4 376.3 L1384.5 378.3 L1385.5 380.4 L1386.6 382.5 L1387.6 384.6 L1388.7 386.7 L1389.7 388.8 L1390.7 390.9 L1391.7 393.0 L1392.7 395.2 L1393.6 397.4 L1394.6 399.5 L1395.5 401.7 L1396.5 403.9 L1397.4 406.2 L1398.3 408.4 L1399.2 410.6 L1400.1 412.9 L1401.0 415.2 L1401.9 417.4 L1402.7 419.7 L1403.6 422.0 L1404.4 424.3 L1405.3 426.6 L1406.1 429.0 L1406.9 431.3 L1407.8 433.7 L1408.6 436.0 L1409.4 438.4 L1410.2 440.7 L1411.0 443.1 L1411.7 445.5 L1412.5 447.9 L1413.3 450.3 L1414.0 452.7 L1414.8 455.2 L1415.5 457.6 L1416.3 460.0 L1417.0 462.5 L1417.8 464.9 L1418.5 467.4 L1419.2 469.9 L1419.9 472.4 L1420.6 474.8 L1421.3 477.3 L1422.0 479.8 L1422.7 482.3 L1423.4 484.8 L1424.1 487.4 L1424.8 489.9 L1425.4 492.4 L1426.1 494.9 L1426.8 497.5 L1427.4 500.0 L1428.1 502.6 L1428.7 505.1 L1429.4 507.7 L1430.0 510.3 L1430.7 512.8 L1431.3 515.4 L1431.9 518.0 L1432.6 520.6 L1433.2 523.2 L1433.8 525.8 L1434.4 528.4 L1435.1 531.0 L1435.7 533.6 L1436.3 536.3 L1436.9 538.9 L1437.5 541.5 L1438.1 544.2 L1438.7 546.8 L1439.3 549.4 L1439.9 552.1 L1440.5 554.7 L1441.0 557.4 L1441.6 560.1 L1442.2 562.7 L1442.8 565.4 L1443.4 568.1 L1443.9 570.8 L1444.5 573.5 L1445.1 576.1 L1445.6 578.8 L1446.2 581.5 L1446.8 584.2 L1447.3 586.9 L1447.9 589.7 L1448.4 592.4 L1449.0 595.1 L1449.5 597.8 L1450.1 600.5 L1450.6 603.3 L1451.1 606.0 L1451.7 608.7 L1452.2 611.5 L1452.8 614.2 L1453.3 617.0 L1453.8 619.7 L1454.3 622.5 L1454.9 625.2 L1455.4 628.0 L1455.9 630.8 L1456.4 633.5 L1457.0 636.3 L1457.5 639.1 L1458.0 641.9 L1458.5 644.7 L1459.0 647.4 L1459.5 650.2 L1460.0 653.0 L1460.5 655.8 L1461.0 658.6 L1461.5 661.4 L1462.0 664.2 L1462.5 667.1 L1463.0 669.9 L1463.5 672.7 L1464.0 675.5 L1464.5 678.3 L1465.0 681.2 L1465.5 684.0 L1466.0 686.8 L1466.5 689.7 L1467.0 692.5 L1467.5 695.3 L1467.9 698.2 L1468.4 701.0 L1468.9 703.9 L1469.4 706.7 L1469.8 709.6 L1470.3 712.5 L1470.8 715.3 L1471.3 718.2 L1471.7 721.1 L1472.2 723.9 L1472.7 726.8 L1473.1 729.7 L1473.6 732.6 L1474.1 735.4 L1474.5 738.3 L1475.0 741.2 L1475.5 744.1 L1475.9 747.0 L1476.4 749.9 L1476.8 752.8 L1477.3 755.7 L1477.7 758.6 L1478.2 761.5 L1478.6 764.4 L1479.1 767.3 L1479.5 770.3 L1480.0 773.2 L1480.4 776.1 L1480.9 779.0 L1481.3 782.0 L1481.8 784.9 L1482.2 787.8 L1482.6 790.8 L1483.1 793.7 L1483.5 796.6 L1484.0 799.6 L1484.4 802.5 L1484.8 805.5 L1485.3 808.4 L1485.7 811.4 L1486.1 814.3 L1486.6 817.3 L1487.0 820.2 L1487.4 823.2 L1487.8 826.2 L1488.3 829.1 L1488.5 831.1 L1488.8 833.1 L1489.1 835.1 L1489.4 837.1 L1489.7 839.1 L1490.0 841.0 L1490.2 843.0 L1490.5 845.0 L1490.8 847.0 L1491.1 849.0 L1491.4 851.0 L1491.6 853.0 L1491.9 855.0 L1492.2 857.0 L1492.5 859.0 L1492.7 861.0 L1493.0 862.9 L1493.3 864.9 L1493.6 866.9 L1493.9 868.9 L1494.1 870.9 L1494.4 872.9 L1494.7 875.0 L1495.0 877.0 L1495.2 879.0 L1495.5 881.0 L1495.8 883.0 L1496.0 885.0 L1496.3 887.0 L1496.6 889.0 L1496.9 891.0 L1497.1 893.0 L1497.4 895.0 L1497.7 897.1 L1497.9 899.1 L1498.2 901.1 L1498.5 903.1 L1498.7 905.1 L1499.0 907.1 L1499.3 909.2 L1499.5 911.2 L1499.8 913.2 L1500.1 915.2 L1500.3 917.3 L1500.6 919.3 L1500.9 921.3 L1501.1 923.3 L1501.4 925.4 L1501.7 927.4 L1501.9 929.4 L1502.2 931.4 L1502.5 933.5 L1502.7 935.5 L1503.0 937.5 L1503.3 939.6 L1503.5 941.6 L1503.8 943.7 L1504.0 945.7 L1504.3 947.7 L1504.6 949.8 L1504.8 951.8 L1505.1 953.8 L1505.3 955.9 L1505.6 957.9 L1505.9 960.0 L1506.1 962.0 L1506.4 964.1 L1506.6 966.1 L1506.9 968.2 L1507.1 970.2 L1507.4 972.3 L1507.7 974.3 L1507.9 976.4 L1508.2 978.4 L1508.4 980.5 L1508.7 982.5 L1508.9 984.6 L1509.2 986.6 L1509.4 988.7 L1509.7 990.7 L1510.0 992.8 L1510.2 994.9 L1510.5 996.9 L1510.7 999.0 L1511.0 1001.1 L1511.2 1003.1 L1511.5 1005.2 L1511.7 1007.2 L1512.0 1009.3 L1512.2 1011.4 L1512.5 1013.4 L1512.7 1015.5 L1513.0 1017.6 L1513.2 1019.7 L1513.5 1021.7 L1513.7 1023.8 L1514.0 1025.9 L1514.2 1027.9 L1514.5 1030.0 L1514.7 1032.1 L1515.0 1034.2 L1515.2 1036.2 L1515.5 1038.3 L1515.7 1040.4 L1515.9 1042.5 L1516.2 1044.6 L1516.4 1046.6 L1516.7 1048.7 L1516.9 1050.8 L1517.2 1052.9 L1517.4 1055.0 L1517.7 1057.1 L1517.9 1059.2 L1518.1 1061.2 L1518.4 1063.3 L1518.6 1065.4 L1518.9 1067.5 L1519.1 1069.6 L1519.4 1071.7 L1519.6 1073.8 L1519.8 1075.9 L1520.1 1078.0 L1520.3 1080.1 L1520.6 1082.2 L1520.8 1084.3 L1521.1 1086.4 L1521.3 1088.5 L1521.5 1090.5 L1521.8 1092.6 L1522.0 1094.8 L1522.3 1096.9 L1522.5 1099.0 L1522.7 1101.1 L1523.0 1103.2 L1523.2 1105.3 L1523.4 1107.4 L1523.7 1109.5 L1523.9 1111.6 L1524.2 1113.7 L1524.4 1115.8 L1524.6 1117.9 L1524.9 1120.0 L1525.1 1122.1 L1525.3 1124.2 L1525.6 1126.4 L1525.8 1128.5 L1526.0 1130.6 L1526.3 1132.7 L1526.5 1134.8 L1526.8 1136.9 L1527.0 1139.1 L1527.2 1141.2 L1527.5 1143.3 L1527.7 1145.4 L1527.9 1147.5 L1528.2 1149.7 L1528.4 1151.8 L1528.6 1153.9 L1528.9 1156.0 L1529.1 1158.1 L1529.3 1160.3 L1529.5 1162.4 L1529.8 1164.5 L1530.0 1166.7 L1530.2 1168.8 L1530.5 1170.9 L1530.7 1173.0 L1530.9 1175.2 L1531.2 1177.3 L1531.4 1179.4 L1531.6 1181.6 L1531.8 1183.7 L1532.1 1185.8 L1532.3 1188.0 L1532.5 1190.1 L1532.8 1192.3 L1533.0 1194.4 L1533.2 1196.5 L1533.4 1198.7 L1533.7 1200.8 L1533.9 1202.9 L1534.1 1205.1 L1534.4 1207.2 L1534.6 1209.4 L1534.8 1211.5 L1535.0 1213.7 L1535.3 1215.8 L1535.5 1218.0 L1535.7 1220.1 L1535.9 1222.3 L1536.2 1224.4 L1536.4 1226.5 L1536.6 1228.7 L1536.8 1230.8 L1537.1 1233.0 L1537.1 1233.0" stroke="#808000"/>
<path d="M237.0 1233.0 L240.3 1229.6 L244.2 1225.8 L248.1 1221.9 L252.0 1217.9 L256.0 1213.9 L260.0 1209.8 L264.0 1205.7 L268.1 1201.6 L272.3 1197.4 L276.4 1193.2 L280.6 1189.0 L284.8 1184.8 L289.1 1180.5 L293.4 1176.1 L297.7 1171.8 L302.0 1167.4 L306.4 1163.0 L310.8 1158.6 L315.2 1154.1 L319.6 1149.7 L324.1 1145.2 L328.5 1140.7 L333.0 1136.2 L337.5 1131.6 L342.1 1127.1 L346.6 1122.5 L351.1 1117.9 L355.7 1113.3 L360.3 1108.7 L364.9 1104.1 L369.5 1099.4 L374.1 1094.8 L378.7 1090.1 L383.3 1085.5 L388.0 1080.8 L392.6 1076.1 L397.3 1071.4 L401.9 1066.7 L406.6 1062.0 L411.3 1057.3 L415.9 1052.6 L420.6 1047.8 L425.3 1043.1 L430.0 1038.3 L434.7 1033.6 L439.4 1028.9 L444.2 1024.1 L448.9 1019.3 L453.6 1014.6 L458.3 1009.8 L463.1 1005.0 L467.8 1000.3 L472.5 995.5 L477.3 990.7 L482.0 985.9 L486.7 981.2 L491.5 976.4 L496.2 971.6 L501.0 966.8 L505.7 962.0 L510.5 957.2 L515.3 952.4 L520.0 947.6 L524.8 942.8 L529.5 938.0 L534.3 933.2 L539.1 928.4 L543.8 923.6 L548.6 918.8 L553.4 914.0 L558.1 909.2 L562.9 904.4 L567.7 899.6 L572.4 894.7 L577.2 889.9 L582.0 885.1 L586.8 880.3 L591.5 875.5 L596.3 870.7 L601.1 865.9 L605.9 861.0 L610.6 856.2 L615.4 851.4 L620.2 846.6 L625.0 841.8 L629.8 837.0 L634.5 832.1 L639.3 827.3 L644.1 822.5 L648.9 817.7 L653.7 812.9 L658.4 808.0 L663.2 803.2 L668.0 798.4 L672.8 793.6 L677.6 788.8 L682.3 783.9 L687.1 779.1 L691.9 774.3 L696.7 769.5 L701.5 764.7 L706.3 759.8 L711.0 755.0 L715.8 750.2 L720.6 745.4 L725.4 740.6 L730.2 735.7 L735.0 730.9 L739.7 726.1 L744.5 721.3 L749.3 716.5 L754.1 711.6 L758.9 706.8 L763.7 702.0 L768.5 697.2 L773.2 692.4 L778.0 687.6 L782.8 682.7 L787.6 677.9 L792.4 673.1 L797.2 668.3 L802.0 663.5 L806.7 658.7 L811.5 653.9 L816.3 649.0 L821.1 644.2 L825.9 639.4 L830.7 634.6 L835.5 629.8 L840.3 625.0 L845.0 620.2 L849.8 615.4 L854.6 610.6 L859.4 605.8 L864.2 601.0 L869.0 596.2 L873.8 591.4 L878.6 586.6 L883.4 581.8 L888.2 577.0 L893.0 572.3 L897.7 567.5 L902.5 562.7 L907.3 557.9 L912.1 553.2 L916.9 548.4 L921.7 543.6 L926.5 538.9 L931.3 534.1 L936.1 529.4 L940.9 524.6 L945.7 519.9 L950.5 515.2 L955.3 510.4 L960.1 505.7 L964.9 501.0 L969.7 496.3 L974.5 491.6 L979.4 486.9 L984.2 482.3 L989.0 477.6 L993.8 473.0 L998.6 468.3 L1003.4 463.7 L1008.2 459.1 L1013.1 454.5 L1017.9 449.9 L1022.7 445.4 L1027.6 440.8 L1032.4 436.3 L1037.2 431.8 L1042.1 427.3 L1046.9 422.9 L1051.8 418.4 L1056.6 414.0 L1061.5 409.7 L1066.3 405.3 L1071.2 401.0 L1076.1 396.8 L1081.0 392.6 L1085.9 388.4 L1090.8 384.2 L1095.7 380.1 L1100.6 376.1 L1104.5 372.9 L1108.3 369.9 L1111.9 367.0 L1115.4 364.3 L1118.7 361.7 L1121.9 359.3 L1125.0 357.0 L1128.0 354.8 L1130.9 352.7 L1133.6 350.7 L1136.3 348.8 L1138.9 347.0 L1141.5 345.3 L1143.9 343.6 L1146.3 342.0 L1148.6 340.5 L1150.9 339.0 L1153.1 337.6 L1155.3 336.3 L1157.4 335.0 L1159.4 333.7 L1161.4 332.6 L1163.4 331.4 L1165.3 330.3 L1167.2 329.2 L1169.0 328.2 L1170.8 327.2 L1172.6 326.3 L1176.1 324.5 L1179.4 322.8 L1182.6 321.3 L1185.7 319.9 L1188.8 318.5 L1191.7 317.3 L1194.5 316.2 L1197.3 315.1 L1200.0 314.1 L1202.6 313.2 L1205.2 312.4 L1207.7 311.6 L1210.1 310.9 L1212.5 310.2 L1214.9 309.6 L1217.2 309.1 L1219.5 308.5 L1221.7 308.1 L1223.9 307.7 L1226.0 307.3 L1228.1 307.0 L1230.2 306.7 L1232.2 306.4 L1234.2 306.2 L1237.2 305.9 L1240.1 305.7 L1242.9 305.6 L1245.7 305.5 L1248.5 305.5 L1251.2 305.5 L1253.8 305.6 L1256.5 305.8 L1259.1 306.0 L1261.6 306.2 L1264.1 306.5 L1266.6 306.8 L1269.1 307.1 L1271.5 307.5 L1273.9 308.0 L1276.3 308.4 L1278.6 308.9 L1280.9 309.4 L1283.2 310.0 L1285.5 310.6 L1287.8 311.2 L1290.0 311.9 L1292.2 312.5 L1294.5 313.2 L1296.6 314.0 L1298.8 314.7 L1300.9 315.5 L1303.1 316.3 L1305.2 317.2 L1307.3 318.0 L1309.3 318.9 L1311.4 319.9 L1313.4 320.8 L1315.4 321.8 L1317.4 322.8 L1319.4 323.8 L1321.3 324.8 L1323.3 325.9 L1325.2 327.0 L1327.1 328.2 L1329.0 329.3 L1330.8 330.5 L1332.6 331.7 L1334.5 332.9 L1336.3 334.2 L1338.0 335.5 L1339.8 336.8 L1341.5 338.1 L1343.2 339.5 L1344.9 340.9 L1346.6 342.3 L1348.2 343.7 L1349.8 345.2 L1351.4 346.7 L1353.0 348.2 L1354.6 349.7 L1356.1 351.3 L1357.6 352.9 L1359.1 354.5 L1360.6 356.2 L1362.0 357.8 L1363.4 359.5 L1364.9 361.2 L1366.2 362.9 L1367.6 364.7 L1369.0 366.5 L1370.3 368.3 L1371.6 370.1 L1372.9 371.9 L1374.2 373.8 L1375.4 375.7 L1376.6 377.6 L1377.9 379.5 L1379.1 381.4 L1380.2 383.4 L1381.4 385.4 L1382.6 387.3 L1383.7 389.4 L1384.8 391.4 L1385.9 393.4 L1387.0 395.5 L1388.1 397.6 L1389.1 399.7 L1390.2 401.8 L1391.2 403.9 L1392.2 406.0 L1393.2 408.2 L1394.2 410.3 L1395.2 412.5 L1396.1 414.7 L1397.1 416.9 L1398.0 419.2 L1399.0 421.4 L1399.9 423.6 L1400.8 425.9 L1401.7 428.2 L1402.6 430.4 L1403.5 432.7 L1404.3 435.0 L1405.2 437.3 L1406.0 439.7 L1406.9 442.0 L1407.7 444.3 L1408.5 446.7 L1409.3 449.1 L1410.2 451.4 L1411.0 453.8 L1411.7 456.2 L1412.5 458.6 L1413.3 461.0 L1414.1 463.4 L1414.8 465.9 L1415.6 468.3 L1416.3 470.7 L1417.1 473.2 L1417.8 475.6 L1418.6 478.1 L1419.3 480.6 L1420.0 483.1 L1420.7 485.5 L1421.4 488.0 L1422.1 490.5 L1422.8 493.0 L1423.5 495.6 L1424.2 498.1 L1424.9 500.6 L1425.6 503.1 L1426.2 505.7 L1426.9 508.2 L1427.6 510.8 L1428.2 513.3 L1428.9 515.9 L1429.5 518.5 L1430.2 521.0 L1430.8 523.6 L1431.5 526.2 L1432.1 528.8 L1432.7 531.4 L1433.4 534.0 L1434.0 536.6 L1434.6 539.2 L1435.2 541.8 L1435.8 544.5 L1436.5 547.1 L1437.1 549.7 L1437.7 552.3 L1438.3 555.0 L1438.9 557.6 L1439.5 560.3 L1440.1 562.9 L1440.6 565.6 L1441.2 568.3 L1441.8 570.9 L1442.4 573.6 L1443.0 576.3 L1443.5 579.0 L1444.1 581.7 L1444.7 584.3 L1445.3 587.0 L1445.8 589.7 L1446.4 592.4 L1446.9 595.2 L1447.5 597.9 L1448.1 600.6 L1448.6 603.3 L1449.2 606.0 L1449.7 608.7 L1450.3 611.5 L1450.8 614.2 L1451.3 617.0 L1451.9 619.7 L1452.4 622.4 L1453.0 625.2 L1453.5 627.9 L1454.0 630.7 L1454.6 633.5 L1455.1 636.2 L1455.6 639.0 L1456.1 641.8 L1456.7 644.5 L1457.2 647.3 L1457.7 650.1 L1458.2 652.9 L1458.7 655.7 L1459.2 658.5 L1459.8 661.3 L1460.3 664.1 L1460.8 666.9 L1461.3 669.7 L1461.8 672.5 L1462.3 675.3 L1462.8 678.1 L1463.3 680.9 L1463.8 683.7 L1464.3 686.6 L1464.8 689.4 L1465.3 692.2 L1465.8 695.1 L1466.2 697.9 L1466.7 700.7 L1467.2 703.6 L1467.7 706.4 L1468.2 709.3 L1468.7 712.1 L1469.2 715.0 L1469.6 717.8 L1470.1 720.7 L1470.6 723.6 L1471.1 726.4 L1471.5 729.3 L1472.0 732.2 L1472.5 735.1 L1473.0 737.9 L1473.4 740.8 L1473.9 743.7 L1474.4 746.6 L1474.8 749.5 L1475.3 752.4 L1475.7 755.3 L1476.2 758.2 L1476.7 761.1 L1477.1 764.0 L1477.6 766.9 L1478.0 769.8 L1478.5 772.7 L1479.0 775.6 L1479.4 778.5 L1479.9 781.5 L1480.3 784.4 L1480.8 787.3 L1481.2 790.2 L1481.6 793.2 L1482.1 796.1 L1482.5 799.0 L1483.0 802.0 L1483.4 804.9 L1483.9 807.9 L1484.3 810.8 L1484.7 813.8 L1485.2 816.7 L1485.6 819.7 L1486.1 822.6 L1486.5 825.6 L1486.9 828.5 L1487.4 831.5 L1487.8 834.5 L1488.2 837.4 L1488.5 839.4 L1488.8 841.4 L1489.1 843.4 L1489.4 845.4 L1489.7 847.4 L1489.9 849.3 L1490.2 851.3 L1490.5 853.3 L1490.8 855.3 L1491.1 857.3 L1491.4 859.3 L1491.6 861.3 L1491.9 863.3 L1492.2 865.3 L1492.5 867.3 L1492.8 869.3 L1493.0 871.3 L1493.3 873.3 L1493.6 875.3 L1493.9 877.3 L1494.2 879.3 L1494.4 881.3 L1494.7 883.3 L1495.0 885.3 L1495.3 887.3 L1495.5 889.3 L1495.8 891.3 L1496.1 893.3 L1496.4 895.3 L1496.6 897.3 L1496.9 899.3 L1497.2 901.4 L1497.5 903.4 L1497.7 905.4 L1498.0 907.4 L1498.3 909.4 L1498.6 911.4 L1498.8 913.5 L1499.1 915.5 L1499.4 917.5 L1499.6 919.5 L1499.9 921.5 L1500.2 923.6 L1500.5 925.6 L1500.7 927.6 L1501.0 929.6 L1501.3 931.7 L1501.5 933.7 L1501.8 935.7 L1502.1 937.8 L1502.3 939.8 L1502.6 941.8 L1502.9 943.9 L1503.1 945.9 L1503.4 947.9 L1503.7 950.0 L1503.9 952.0 L1504.2 954.0 L1504.5 956.1 L1504.7 958.1 L1505.0 960.2 L1505.2 962.2 L1505.5 964.3 L1505.8 966.3 L1506.0 968.3 L1506.3 970.4 L1506.6 972.4 L1506.8 974.5 L1507.1 976.5 L1507.3 978.6 L1507.6 980.6 L1507.9 982.7 L1508.1 984.7 L1508.4 986.8 L1508.6 988.8 L1508.9 990.9 L1509.2 993.0 L1509.4 995.0 L1509.7 997.1 L1509.9 999.1 L1510.2 1001.2 L1510.4 1003.3 L1510.7 1005.3 L1511.0 1007.4 L1511.2 1009.4 L1511.5 1011.5 L1511.7 1013.6 L1512.0 1015.6 L1512.2 1017.7 L1512.5 1019.8 L1512.7 1021.8 L1513.0 1023.9 L1513.2 1026.0 L1513.5 1028.1 L1513.7 1030.1 L1514.0 1032.2 L1514.3 1034.3 L1514.5 1036.4 L1514.8 1038.4 L1515.0 1040.5 L1515.3 1042.6 L1515.5 1044.7 L1515.8 1046.7 L1516.0 1048.8 L1516.3 1050.9 L1516.5 1053.0 L1516.8 1055.1 L1517.0 1057.2 L1517.3 1059.2 L1517.5 1061.3 L1517.8 1063.4 L1518.0 1065.5 L1518.3 1067.6 L1518.5 1069.7 L1518.7 1071.8 L1519.0 1073.9 L1519.2 1075.9 L1519.5 1078.0 L1519.7 1080.1 L1520.0 1082.2 L1520.2 1084.3 L1520.5 1086.4 L1520.7 1088.5 L1521.0 1090.6 L1521.2 1092.7 L1521.5 1094.8 L1521.7 1096.9 L1521.9 1099.0 L1522.2 1101.1 L1522.4 1103.2 L1522.7 1105.3 L1522.9 1107.4 L1523.2 1109.5 L1523.4 1111.6 L1523.6 1113.7 L1523.9 1115.8 L1524.1 1118.0 L1524.4 1120.1 L1524.6 1122.2 L1524.8 1124.3 L1525.1 1126.4 L1525.3 1128.5 L1525.6 1130.6 L1525.8 1132.7 L1526.0 1134.9 L1526.3 1137.0 L1526.5 1139.1 L1526.8 1141.2 L1527.0 1143.3 L1527.2 1145.4 L1527.5 1147.6 L1527.7 1149.7 L1528.0 1151.8 L1528.2 1153.9 L1528.4 1156.0 L1528.7 1158.2 L1528.9 1160.3 L1529.1 1162.4 L1529.4 1164.5 L1529.6 1166.7 L1529.8 1168.8 L1530.1 1170.9 L1530.3 1173.1 L1530.5 1175.2 L1530.8 1177.3 L1531.0 1179.5 L1531.3 1181.6 L1531.5 1183.7 L1531.7 1185.9 L1532.0 1188.0 L1532.2 1190.1 L1532.4 1192.3 L1532.7 1194.4 L1532.9 1196.5 L1533.1 1198.7 L1533.4 1200.8 L1533.6 1203.0 L1533.8 1205.1 L1534.0 1207.2 L1534.3 1209.4 L1534.5 1211.5 L1534.7 1213.7 L1535.0 1215.8 L1535.2 1218.0 L1535.4 1220.1 L1535.7 1222.3 L1535.9 1224.4 L1536.1 1226.5 L1536.4 1228.7 L1536.6 1230.8 L1536.8 1233.0 L1536.8 1233.0" stroke="#ff0000"/>
</g>
<g fill="#000" shape-rendering="crispEdges">
<rect x="234" y="53" width="6" height="1182"/>
<rect x="1696" y="53" width="5" height="1182"/>
<rect x="234" y="53" width="1467" height="5"/>
<rect x="234" y="1230" width="1467" height="5"/>
<rect x="381" y="1219" width="5" height="11"/>
<rect x="381" y="58" width="5" height="11"/>
<rect x="527" y="1207" width="5" height="23"/>
<rect x="527" y="58" width="5" height="23"/>
<rect x="673" y="1219" width="5" height="11"/>
<rect x="673" y="58" width="5" height="11"/>
<rect x="819" y="1207" width="5" height="23"/>
<rect x="819" y="58" width="5" height="23"/>
<rect x="965" y="1219" width="5" height="11"/>
<rect x="965" y="58" width="5" height="11"/>
<rect x="1111" y="1207" width="5" height="23"/>
<rect x="1111" y="58" width="5" height="23"/>
<rect x="1258" y="1219" width="5" height="11"/>
<rect x="1258" y="58" width="5" height="11"/>
<rect x="1404" y="1207" width="5" height="23"/>
<rect x="1404" y="58" width="5" height="23"/>
<rect x="1550" y="1219" width="5" height="11"/>
<rect x="1550" y="58" width="5" height="11"/>
<rect x="240" y="1146" width="11" height="5"/>
<rect x="1685" y="1146" width="11" height="5"/>
<rect x="240" y="1062" width="23" height="5"/>
<rect x="1673" y="1062" width="23" height="5"/>
<rect x="240" y="978" width="11" height="5"/>
<rect x="1685" y="978" width="11" height="5"/>
<rect x="240" y="894" width="23" height="5"/>
<rect x="1673" y="894" width="23" height="5"/>
<rect x="240" y="810" width="11" height="5"/>
<rect x="1685" y="810" width="11" height="5"/>
<rect x="240" y="726" width="23" height="5"/>
<rect x="1673" y="726" width="23" height="5"/>
<rect x="240" y="642" width="11" height="5"/>
<rect x="1685" y="642" width="11" height="5"/>
<rect x="240" y="557" width="23" height="5"/>
<rect x="1673" y="557" width="23" height="5"/>
<rect x="240" y="473" width="11" height="5"/>
<rect x="1685" y="473" width="11" height="5"/>
<rect x="240" y="389" width="23" height="5"/>
<rect x="1673" y="389" width="23" height="5"/>
<rect x="240" y="305" width="11" height="5"/>
<rect x="1685" y="305" width="11" height="5"/>
<rect x="240" y="221" width="23" height="5"/>
<rect x="1673" y="221" width="23" height="5"/>
<rect x="240" y="137" width="11" height="5"/>
<rect x="1685" y="137" width="11" height="5"/>
</g>
<g fill="none" stroke-width="7" stroke-linecap="round">
<path d="M731.5 905.5 H880.5" stroke="#0000ff"/>
<path d="M731.5 987.5 H880.5" stroke="#008000"/>
<path d="M731.5 1068.5 H880.5" stroke="#808000"/>
<path d="M731.5 1150.5 H880.5" stroke="#ff0000"/>
</g>
<g fill="#000" font-family="&quot;Liberation Sans&quot;, Arial, sans-serif" style="font-kerning:none;font-variant-ligatures:none;white-space:pre" text-rendering="geometricPrecision">
<text transform="translate(211.50 1254.50) scale(1 1.04)" font-size="72" x="-100.09 -60.05 -40.04" y="0">0.0</text>
<text transform="translate(211.50 1086.36) scale(1 1.04)" font-size="72" x="-100.09 -60.05 -37.67" y="0">0.1</text>
<text transform="translate(211.50 918.22) scale(1 1.04)" font-size="72" x="-100.09 -60.05 -40.04" y="0">0.2</text>
<text transform="translate(211.50 750.08) scale(1 1.04)" font-size="72" x="-100.09 -60.05 -40.04" y="0">0.3</text>
<text transform="translate(211.50 581.94) scale(1 1.04)" font-size="72" x="-100.09 -60.05 -40.04" y="0">0.4</text>
<text transform="translate(211.50 413.80) scale(1 1.04)" font-size="72" x="-100.09 -60.05 -40.04" y="0">0.5</text>
<text transform="translate(211.50 245.66) scale(1 1.04)" font-size="72" x="-100.09 -60.05 -40.04" y="0">0.6</text>
<text transform="translate(211.50 77.52) scale(1 1.04)" font-size="72" x="-100.09 -60.05 -40.04" y="0">0.7</text>
<text transform="translate(237.00 1314.50) scale(1 1.04)" font-size="72" x="-20.02" y="0">0</text>
<text transform="translate(529.30 1314.50) scale(1 1.04)" font-size="72" x="-20.02" y="0">5</text>
<text transform="translate(821.60 1314.50) scale(1 1.04)" font-size="72" x="-37.67 0.00" y="0">10</text>
<text transform="translate(1113.90 1314.50) scale(1 1.04)" font-size="72" x="-37.67 0.00" y="0">15</text>
<text transform="translate(1406.20 1314.50) scale(1 1.04)" font-size="72" x="-40.04 0.00" y="0">20</text>
<text transform="translate(1698.50 1314.50) scale(1 1.04)" font-size="72" x="-40.04 0.00" y="0">25</text>
<text transform="translate(969.00 1400.80)" font-size="78" x="-520.29 -468.27 -424.89 -407.56 -385.89 -342.51 -299.13 -255.75 -234.08 -190.70 -151.70 -125.72 -82.34 -43.34 -4.34 17.33 39.00 82.38 125.76 147.43 212.41 255.79 299.17 342.54 359.87 403.25 424.92 446.60 498.62" y="0">Voltage across the module [V]</text>
<text transform="translate(73.00 644.20) rotate(-90)" font-size="78" x="-487.75 -431.42 -388.04 -362.06 -297.09 -253.71 -236.38 -219.05 -180.05 -136.67 -93.29 -71.62 -28.24 -2.27 41.11 84.49 127.87 166.87 210.25 253.63 275.30 318.68 362.06 418.39 461.77" y="0">Normalized produced power</text>
<text transform="translate(899.20 928.20)" font-size="66.67" x="0.00 37.08 74.16 96.36 151.90 188.97" y="0">normal</text>
<text transform="translate(899.20 1009.80)" font-size="66.67" x="2.20 37.08 55.60 88.94 111.14 148.22 181.55 214.89 251.97 289.04 307.57 340.90 377.98 392.79" y="0">1 cracked cell</text>
<text transform="translate(899.20 1091.50)" font-size="66.67" x="0.00 37.08 55.60 88.94 111.14 148.22 181.55 214.89 251.97 289.04 307.57 340.90 377.98 392.79 407.61" y="0">2 cracked cells</text>
<text transform="translate(899.20 1173.00)" font-size="66.67" x="0.00 37.08 55.60 88.94 111.14 148.22 181.55 214.89 251.97 289.04 307.57 340.90 377.98 392.79 407.61" y="0">3 cracked cells</text>
<text transform="translate(294.50 175.70)" font-size="66.67" x="0.00 33.34 70.41 92.62 111.14 125.95 159.29 196.36 211.18 229.70" y="0">vertical (</text>
<text x="545.20" y="175.70" font-family="&quot;Liberation Serif&quot;, serif" font-size="70">β</text>
<text transform="translate(582.30 172.20) scale(1 0.93)" font-size="66.67" x="0.00" y="0">=</text>
<text transform="translate(621.23 175.70)" font-size="66.67" x="0.00 37.08 74.16 100.82 123.02 141.54 178.62 193.43 211.96 249.04 282.37 297.18 334.26 349.07 367.60 423.13 460.21 497.29 534.37 549.18" y="0">90°) bifacial module</text>
<text transform="translate(293.00 265.60)" font-size="66.67" x="0.00 37.08 74.16 107.49 126.02 148.22 185.30 207.50 222.31 259.39 296.47 314.99 352.07 389.15 407.67" y="0">east-oriented (</text>
<text x="723.60" y="265.60" font-family="&quot;Liberation Serif&quot;, serif" font-style="italic" font-size="74">γ</text>
<text transform="translate(751.50 262.10) scale(1 0.93)" font-size="66.67" x="0.00" y="0">=</text>
<text transform="translate(790.43 265.60)" font-size="66.67" x="0.00 22.20 59.28 96.36 123.02 145.22 163.75 182.27 204.47 241.55 278.63" y="0">-90°) front</text>
<text transform="translate(294.50 347.80)" font-size="66.67" x="0.00 33.34 70.41 85.23 118.56 139.28 174.16 211.24 229.76" y="0">July 15, </text>
<text transform="translate(545.28 347.80)" font-size="66.67" font-style="italic" x="0.00 48.15 92.62" y="0">CKT</text>
<text transform="translate(676.12 344.30) scale(1 0.93)" font-size="66.67" x="0.00" y="0">=</text>
<text transform="translate(715.05 347.80)" font-size="66.67" x="2.20 37.08 74.16 92.68 129.76 166.84 183.84 229.81" y="0">10:00 AM</text>
</g>
<g fill="#fff">
<rect x="177.70" y="1079.41" width="14.10" height="8.23"/>
<rect x="198.44" y="1079.41" width="13.54" height="8.23"/>
<rect x="787.80" y="1307.55" width="14.10" height="8.23"/>
<rect x="808.54" y="1307.55" width="13.54" height="8.23"/>
<rect x="1080.10" y="1307.55" width="14.10" height="8.23"/>
<rect x="1100.84" y="1307.55" width="13.54" height="8.23"/>
<rect x="904.98" y="1003.61" width="13.05" height="7.32"/>
<rect x="924.19" y="1003.61" width="12.53" height="7.32"/>
<rect x="437.36" y="341.61" width="13.05" height="7.32"/>
<rect x="456.57" y="341.61" width="12.53" height="7.32"/>
<rect x="720.83" y="341.61" width="13.05" height="7.32"/>
<rect x="740.04" y="341.61" width="12.53" height="7.32"/>
</g>
</svg>
</body></html>
